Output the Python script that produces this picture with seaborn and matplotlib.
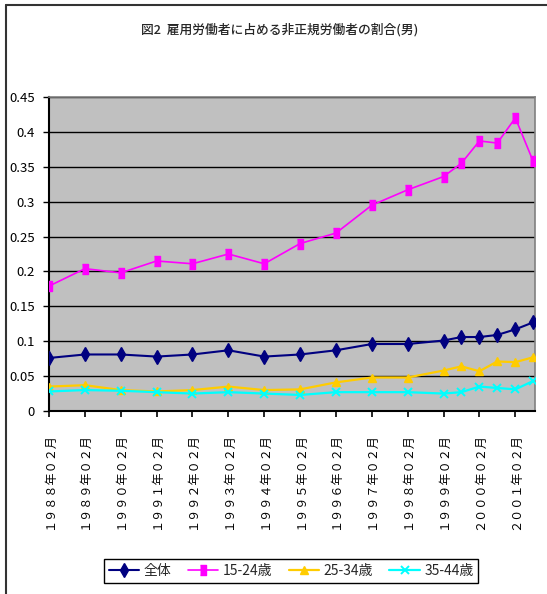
import pandas as pd
import seaborn as sns
import matplotlib.pyplot as plt
from matplotlib.lines import Line2D

# survey months (Feb each year, Feb/Aug from 1999)
months = ["1988-02", "1989-02", "1990-02", "1991-02", "1992-02", "1993-02",
          "1994-02", "1995-02", "1996-02", "1997-02", "1998-02", "1999-02",
          "1999-08", "2000-02", "2000-08", "2001-02", "2001-08"]

total = [0.076, 0.081, 0.081, 0.078, 0.081, 0.087, 0.078, 0.081, 0.087,
         0.096, 0.096, 0.101, 0.106, 0.106, 0.109, 0.117, 0.127]
age_15_24 = [0.179, 0.204, 0.198, 0.215, 0.211, 0.225, 0.211, 0.240, 0.255,
             0.295, 0.317, 0.336, 0.355, 0.387, 0.384, 0.420, 0.358]
age_25_34 = [0.035, 0.037, 0.030, 0.028, 0.030, 0.035, 0.030, 0.031, 0.041,
             0.048, 0.048, 0.058, 0.064, 0.057, 0.071, 0.070, 0.077]
age_35_44 = [0.028, 0.030, 0.029, 0.027, 0.025, 0.027, 0.025, 0.023, 0.027,
             0.027, 0.027, 0.025, 0.027, 0.035, 0.033, 0.031, 0.043]

series_names = ["全体", "15-24歳", "25-34歳", "35-44歳"]
tick_years = [str(y) for y in range(1988, 2002)]
title = "図2  雇用労働者に占める非正規労働者の割合(男)"

sns.set_style("white")
plt.rcParams['font.family'] = ['Noto Sans CJK JP', 'DejaVu Sans']

dates = pd.to_datetime(months)
df = pd.DataFrame({"date": dates, series_names[0]: total,
                   series_names[1]: age_15_24, series_names[2]: age_25_34,
                   series_names[3]: age_35_44})

fig = plt.figure(figsize=(5.47, 5.94), dpi=100)
W, H = 547, 594
ax = fig.add_axes([49 / W, 1 - 411 / H, (535 - 49) / W, (411 - 97) / H])
ax.set_facecolor("#C0C0C0")

styles = {
    "全体": dict(color="#000080", marker="d", markersize=7, linewidth=1.5, mew=1.0),
    "15-24歳": dict(color="#FF00FF", marker=[(-0.6, -1), (0.6, -1), (0.6, 1), (-0.6, 1)],
                   markersize=7, linewidth=1.2, mew=1.0),
    "25-34歳": dict(color="#FFCC00", marker="^", markersize=6, linewidth=1.6, mew=1.0),
    "35-44歳": dict(color="#00FFFF", marker="x", markersize=6, linewidth=1.6, mew=1.4),
}

for name in series_names:
    st = styles[name]
    sns.lineplot(data=df, x="date", y=name, ax=ax, label=name,
                 color=st["color"], marker=st["marker"], markersize=st["markersize"],
                 markeredgecolor=st["color"], markeredgewidth=st["mew"],
                 linewidth=st["linewidth"], zorder=3)

# y axis
yticks = [i * 0.05 for i in range(10)]
ax.set_ylim(0, 0.45)
ax.set_yticks(yticks)
ax.set_yticklabels(["0" if v == 0 else f"{v:.2f}".rstrip("0") for v in yticks],
                   fontsize=9.5)
ax.yaxis.grid(True, color="black", linewidth=1)
ax.xaxis.grid(False)

# x axis
fw = str.maketrans("0123456789", "０１２３４５６７８９")
ax.set_xlim(pd.Timestamp("1988-02-01"), pd.Timestamp("2001-08-20"))
ax.set_xticks(pd.to_datetime([y + "-02" for y in tick_years]))
ax.set_xticklabels([(y + "年02月").translate(fw) for y in tick_years],
                   rotation=90, fontsize=8.7, va="top", ha="center")
ax.tick_params(axis="x", direction="out", length=4, width=1.2, pad=12, colors="black")
ax.tick_params(axis="y", direction="out", length=4, width=1.0, pad=6, colors="black")
ax.tick_params(axis="both", bottom=True, left=True)
ax.set_xlabel("")
ax.set_ylabel("")

for side in ["left", "bottom"]:
    ax.spines[side].set_color("black")
    ax.spines[side].set_linewidth(1.5)
for side in ["top", "right"]:
    ax.spines[side].set_color("#808080")
    ax.spines[side].set_linewidth(1.2)
ax.set_axisbelow(True)

# legend
handles, labels = ax.get_legend_handles_labels()
ax.get_legend().remove()
leg = fig.legend(handles, labels, ncol=4, loc="center",
                 bbox_to_anchor=(291 / W, 1 - 571 / H), fontsize=10,
                 frameon=True, fancybox=False, framealpha=1, edgecolor="black",
                 handlelength=2.2, columnspacing=1.2, handletextpad=0.3,
                 borderpad=0.35)
leg.get_frame().set_linewidth(1.0)

# title
fig.text(280 / W, 1 - 30 / H, title, ha="center", va="center", fontsize=9.2,
         fontweight="medium")

# chart area border (left and top only visible)
fig.add_artist(Line2D([6 / W, 6 / W], [0, 1 - 5 / H], color="#333333", linewidth=1.5))
fig.add_artist(Line2D([6 / W, 1], [1 - 5 / H, 1 - 5 / H], color="#333333", linewidth=1.5))

fig.savefig("out.png", dpi=100)
plt.close()
